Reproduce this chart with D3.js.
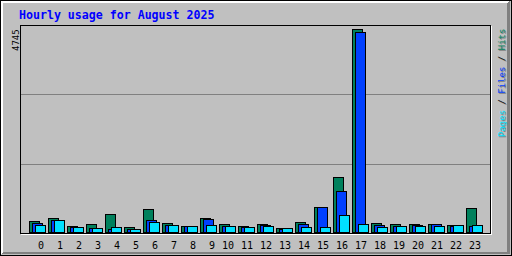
<!DOCTYPE html>
<html>
<head>
<meta charset="utf-8">
<script src="https://cdn.jsdelivr.net/npm/d3@7"></script>
<style>
  html, body { margin: 0; padding: 0; background: #c0c0c0; }
  svg { display: block; }
</style>
</head>
<body>
<div id="chart"></div>
<script>
// hourly usage
var hours = d3.range(24);
var hourLabels = ["0","1","2","3","4","5","6","7","8","9","10","11","12","13","14","15","16","17","18","19","20","21","22","23"];
var hits  = [257, 327, 140, 187, 420, 117, 537, 210, 140, 327, 187, 140, 187, 93, 234, 590, 1285, 4745, 210, 187, 187, 187, 164, 561];
var files = [203, 288, 117, 93, 70, 78, 280, 171, 130, 297, 140, 117, 164, 63, 187, 585, 958, 4675, 164, 140, 171, 187, 148, 140];
var pages = [164, 273, 117, 93, 117, 70, 234, 164, 135, 156, 140, 117, 140, 86, 117, 117, 397, 187, 117, 140, 140, 140, 164, 164];
var maxVal = 4745;
var title = "Hourly usage for August 2025";

var W = 512, H = 256;
var colors = {hits: "#00805c", files: "#0040ff", pages: "#00e0ff"};

function draw() {
    var svg = d3.select("#chart").append("svg")
        .attr("width", W)
        .attr("height", H)
        .attr("shape-rendering", "crispEdges");

    // background + bevel
    svg.append("rect").attr("x", 0).attr("y", 0).attr("width", W).attr("height", H).attr("fill", "#c0c0c0");
    svg.append("polygon")
        .attr("points", "1,1 510,1 507,3 3,3 3,252 1,254")
        .attr("fill", "#ffffff");
    svg.append("polygon")
        .attr("points", "510,1 510,254 1,254 3,252 507,252 507,3")
        .attr("fill", "#808080");
    svg.append("rect").attr("x", 0.5).attr("y", 0.5).attr("width", W - 1).attr("height", H - 1)
        .attr("fill", "none").attr("stroke", "#000");

    var x = d3.scaleLinear().domain([0, 23]).range([29, 466]);
    var y = d3.scaleLinear().domain([0, maxVal]).range([232, 29]);
    // frame scale for the plot box and its grid lines
    var frame = d3.scaleLinear().domain([0, 3]).range([233, 25]);

    // grid lines
    svg.append("g").selectAll("line")
        .data([1, 2])
        .enter().append("line")
        .attr("x1", 21).attr("x2", 490)
        .attr("y1", d => Math.round(frame(d)) + 0.5)
        .attr("y2", d => Math.round(frame(d)) + 0.5)
        .attr("stroke", "#808080");

    // plot box
    var box = svg.append("g").attr("fill", "none");
    box.append("path").attr("d", "M20.5,233.5 V25.5 H490.5 V233.5 H20.5").attr("stroke", "#000");
    box.append("path").attr("d", "M21,234.5 H491.5 V26").attr("stroke", "#fff");

    // bars: hits, files, pages, each shifted 3px right
    var series = [
        {key: "hits", values: hits, off: 0},
        {key: "files", values: files, off: 3},
        {key: "pages", values: pages, off: 6}
    ];
    series.forEach(function(s) {
        svg.append("g")
            .attr("fill", colors[s.key])
            .attr("stroke", "#000")
            .selectAll("rect")
            .data(hours)
            .enter().append("rect")
            .attr("x", i => Math.round(x(i)) + s.off + 0.5)
            .attr("y", i => Math.round(y(s.values[i])) + 0.5)
            .attr("width", 10)
            .attr("height", i => 232 - Math.round(y(s.values[i])));
    });

    // hour labels
    svg.append("g")
        .attr("font-family", "DejaVu Sans Mono")
        .attr("font-size", 10)
        .attr("fill", "#000")
        .attr("shape-rendering", null)
        .selectAll("text")
        .data(hours)
        .enter().append("text")
        .attr("x", i => Math.round(x(i)) + (hourLabels[i].length < 2 ? 9 : 3))
        .attr("y", 248.5)
        .text(i => hourLabels[i]);

    // max value, rotated
    svg.append("text")
        .attr("transform", "translate(18.5,51) rotate(-90)")
        .attr("font-family", "DejaVu Sans Mono")
        .attr("font-size", 9)
        .attr("fill", "#000")
        .text(maxVal);

    // legend on the right, reading upward
    var legendParts = [
        {t: "Pages", c: colors.pages},
        {t: " / ", c: "#000"},
        {t: "Files", c: colors.files},
        {t: " / ", c: "#000"},
        {t: "Hits", c: colors.hits}
    ];
    [{dx: 1, dy: 1, shadow: true}, {dx: 0, dy: 0, shadow: false}].forEach(function(p) {
        var t = svg.append("text")
            .attr("transform", "translate(" + (504.5 + p.dx) + "," + (137 + p.dy) + ") rotate(-90)")
            .attr("font-family", "DejaVu Sans Mono")
            .attr("font-size", 9)
            .attr("xml:space", "preserve")
            .style("white-space", "pre");
        t.selectAll("tspan")
            .data(legendParts)
            .enter().append("tspan")
            .attr("fill", d => p.shadow ? "#808080" : d.c)
            .text(d => d.t);
    });

    // title
    svg.append("text")
        .attr("x", 19)
        .attr("y", 19)
        .attr("font-family", "DejaVu Sans Mono")
        .attr("font-weight", "bold")
        .attr("font-size", 11.6)
        .attr("fill", "#0000ff")
        .text(title);
}

window.onload = draw;
</script>
</body>
</html>
